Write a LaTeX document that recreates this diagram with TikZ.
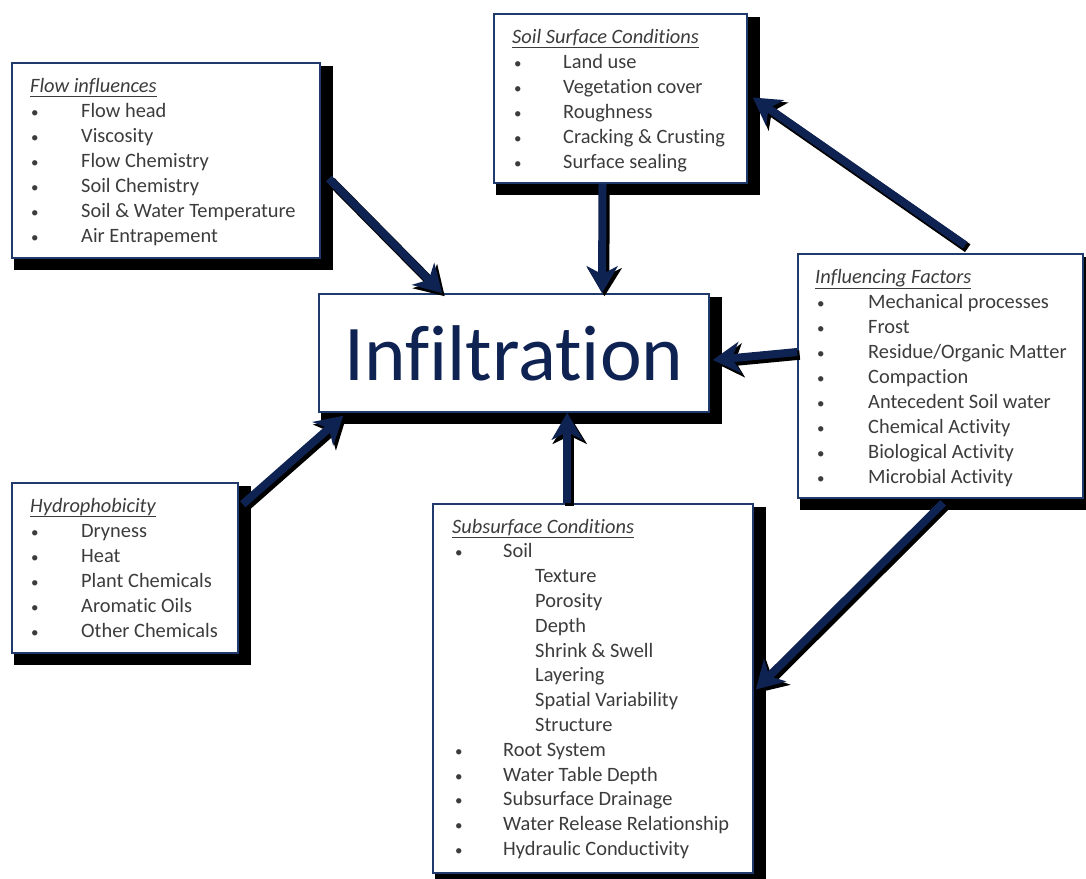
\documentclass[tikz,border=0pt]{standalone}
\usepackage{fontspec}
\setmainfont{Carlito}[Ligatures=NoCommon]
\usetikzlibrary{arrows.meta,calc,backgrounds}
\definecolor{navy}{HTML}{0F2352}
\definecolor{boxline}{HTML}{203A6B}
\definecolor{bodytext}{HTML}{3C3C3C}
% one thick arrow with its black drop shadow
\newcommand\linkarrow[2]{%
  \draw[connshadow] #1 -- #2;
  \draw[conn] #1 -- #2;}
\newcommand\bul{{\fontsize{15}{15}\selectfont\textbullet}}
\begin{document}
\begin{tikzpicture}[x=1pt,y=-1pt,
  panel/.style={draw=boxline, line width=1.6pt, fill=white, inner sep=0pt},
  itemtext/.style={anchor=base west, inner sep=0pt, text=bodytext,
    font=\fontsize{20.4}{25}\selectfont},
  headtext/.style={itemtext, font=\fontsize{20.4}{25}\selectfont\itshape},
  conn/.style={draw=navy, line width=8pt,
    -{Stealth[length=27pt,width=31pt,inset=8pt]}},
  connshadow/.style={draw=black, line width=9.5pt,
    -{Stealth[length=28pt,width=34pt,inset=8pt]},
    transform canvas={shift={(2.5pt,-3pt)}}},
]
\useasboundingbox (0,0) rectangle (1086,878);

% panels
\node[panel, minimum width=308pt, minimum height=195pt] (flow)  at (166,160.5) {};
\node[panel, minimum width=253pt, minimum height=169pt] (surf)  at (620.5,98.5) {};
\node[panel, minimum width=390pt, minimum height=118pt, text=navy,
      font=\fontsize{79}{90}\selectfont] (infil) at (514,353) {Infiltration};
\node[panel, minimum width=285pt, minimum height=244pt] (infl)  at (940.5,376) {};
\node[panel, minimum width=320pt, minimum height=369pt] (subs)  at (593,688.5) {};
\node[panel, minimum width=226pt, minimum height=170pt] (hydro) at (125,568) {};

% drop shadows and page background
\begin{scope}[on background layer]
  \fill[white] (0,0) rectangle (1086,878);
  \foreach \n in {flow,surf,infil,infl,subs,hydro}
    \fill[black] ($(\n.north west)+(3,4)$) rectangle ($(\n.south east)+(12,11)$);
\end{scope}

% Flow influences
\node[headtext] (flow-h) at (30,92) {\underline{Flow influences}};
\foreach \t [count=\i] in {Flow head, Viscosity, Flow Chemistry, Soil Chemistry,
    Soil \& Water Temperature, Air Entrapement} {
  \node[itemtext] (flow-b\i) at (31,{92+25*\i}) {\bul};
  \node[itemtext] (flow-t\i) at (81,{92+25*\i}) {\t};
}

% Soil surface conditions
\node[headtext] (surf-h) at (512,43) {\underline{Soil Surface Conditions}};
\foreach \t [count=\i] in {Land use, Vegetation cover, Roughness,
    Cracking \& Crusting, Surface sealing} {
  \node[itemtext] (surf-b\i) at (514,{43+25*\i}) {\bul};
  \node[itemtext] (surf-t\i) at (563,{43+25*\i}) {\t};
}

% Influencing factors
\node[headtext] (infl-h) at (815,283) {\underline{Influencing Factors}};
\foreach \t [count=\i] in {Mechanical processes, Frost, Residue/Organic Matter,
    Compaction, Antecedent Soil water, Chemical Activity, Biological Activity,
    Microbial Activity} {
  \node[itemtext] (infl-b\i) at (817,{283+25*\i}) {\bul};
  \node[itemtext] (infl-t\i) at (868,{283+25*\i}) {\t};
}

% Subsurface conditions
\node[headtext] (subs-h) at (452,533) {\underline{Subsurface Conditions}};
\node[itemtext] (subs-b1) at (455,557.8) {\bul};
\node[itemtext] (subs-t1) at (503,557.8) {Soil};
\foreach \t [count=\i from 2] in {Texture, Porosity, Depth, Shrink \& Swell,
    Layering, Spatial Variability, Structure} {
  \node[itemtext] (subs-t\i) at (535,{533+24.8*\i}) {\t};
}
\foreach \t [count=\i from 9] in {Root System, Water Table Depth,
    Subsurface Drainage, Water Release Relationship, Hydraulic Conductivity} {
  \node[itemtext] (subs-b\i) at (455,{533+24.8*\i}) {\bul};
  \node[itemtext] (subs-t\i) at (503,{533+24.8*\i}) {\t};
}

% Hydrophobicity
\node[headtext] (hydro-h) at (30,512) {\underline{Hydrophobicity}};
\foreach \t [count=\i] in {Dryness, Heat, Plant Chemicals, Aromatic Oils,
    Other Chemicals} {
  \node[itemtext] (hydro-b\i) at (31,{512+25*\i}) {\bul};
  \node[itemtext] (hydro-t\i) at (81,{512+25*\i}) {\t};
}

% connectors
\linkarrow{($(flow.east)+(8,18)$)}{($(infil.north west)+(124,0)$)}
\linkarrow{($(surf.south)+(-18,0)$)}{($(infil.north)+(88,0)$)}
\linkarrow{($(infl.north west)+(168,-8)$)}{($(surf.east)+(5,-1)$)}
\linkarrow{($(infl.west)+(0,-24)$)}{($(infil.east)+(3,7)$)}
\linkarrow{($(infl.south west)+(146,4)$)}{($(subs.east)+(2,1)$)}
\linkarrow{($(subs.north west)+(135,0)$)}{($(infil.south west)+(249,0)$)}
\linkarrow{($(hydro.north east)+(4,22)$)}{($(infil.south west)+(25,3)$)}
\end{tikzpicture}
\end{document}
